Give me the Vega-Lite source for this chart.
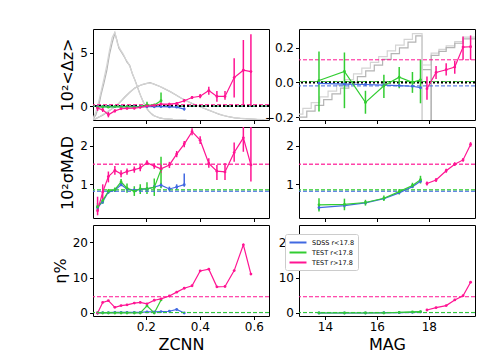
{
"$schema": "https://vega.github.io/schema/vega-lite/v6.json",
"padding": {"left": 51, "top": 28, "right": 5, "bottom": 5},
"config": {
 "font": "DejaVu Sans",
 "view": {"stroke": "black", "strokeWidth": 1},
 "axis": {"grid": false, "domain": false, "tickColor": "black", "labelColor": "black", "titleColor": "black", "labelFontSize": 12, "titleFontSize": 16, "titleFontWeight": "normal", "tickSize": 3.5, "labelPadding": 2, "titlePadding": 4, "labelFont": "DejaVu Sans", "titleFont": "DejaVu Sans"}
},
"datasets": {
 "zs": [
  {"s":"SDSS r<17.8","x":0.021,"dz":-0.05,"dzl":-0.1,"dzh":0.0,"sg":0.4,"sgl":0.33,"sgh":0.47,"eta":0},
  {"s":"SDSS r<17.8","x":0.040,"dz":-0.04,"dzl":-0.08,"dzh":0.0,"sg":0.55,"sgl":0.5,"sgh":0.6,"eta":0.1},
  {"s":"SDSS r<17.8","x":0.061,"dz":-0.05,"dzl":-0.09,"dzh":-0.01,"sg":0.8,"sgl":0.76,"sgh":0.84,"eta":0.1},
  {"s":"SDSS r<17.8","x":0.085,"dz":-0.05,"dzl":-0.09,"dzh":-0.01,"sg":0.85,"sgl":0.81,"sgh":0.89,"eta":0.2},
  {"s":"SDSS r<17.8","x":0.108,"dz":-0.04,"dzl":-0.08,"dzh":0.0,"sg":0.99,"sgl":0.95,"sgh":1.03,"eta":0.2},
  {"s":"SDSS r<17.8","x":0.130,"dz":-0.05,"dzl":-0.09,"dzh":-0.01,"sg":0.88,"sgl":0.84,"sgh":0.92,"eta":0.2},
  {"s":"SDSS r<17.8","x":0.157,"dz":-0.05,"dzl":-0.09,"dzh":-0.01,"sg":0.85,"sgl":0.81,"sgh":0.89,"eta":0.2},
  {"s":"SDSS r<17.8","x":0.179,"dz":-0.04,"dzl":-0.09,"dzh":0.01,"sg":0.87,"sgl":0.83,"sgh":0.91,"eta":0.2},
  {"s":"SDSS r<17.8","x":0.204,"dz":-0.05,"dzl":-0.1,"dzh":0.0,"sg":0.88,"sgl":0.84,"sgh":0.92,"eta":0.3},
  {"s":"SDSS r<17.8","x":0.231,"dz":-0.06,"dzl":-0.11,"dzh":-0.01,"sg":0.93,"sgl":0.88,"sgh":0.98,"eta":0.3},
  {"s":"SDSS r<17.8","x":0.256,"dz":-0.05,"dzl":-0.11,"dzh":0.01,"sg":0.98,"sgl":0.92,"sgh":1.04,"eta":0.4},
  {"s":"SDSS r<17.8","x":0.287,"dz":-0.08,"dzl":-0.15,"dzh":-0.01,"sg":0.88,"sgl":0.82,"sgh":0.94,"eta":0.5},
  {"s":"SDSS r<17.8","x":0.314,"dz":-0.1,"dzl":-0.18,"dzh":-0.02,"sg":0.93,"sgl":0.86,"sgh":1.0,"eta":1.0},
  {"s":"SDSS r<17.8","x":0.342,"dz":-0.28,"dzl":-0.42,"dzh":-0.12,"sg":0.99,"sgl":0.94,"sgh":1.28,"eta":0},
  {"s":"TEST r<17.8","x":0.021,"dz":-0.1,"dzl":-0.2,"dzh":0.0,"sg":0.42,"sgl":0.32,"sgh":0.52,"eta":0},
  {"s":"TEST r<17.8","x":0.040,"dz":-0.06,"dzl":-0.12,"dzh":0.0,"sg":0.58,"sgl":0.5,"sgh":0.66,"eta":0},
  {"s":"TEST r<17.8","x":0.061,"dz":-0.1,"dzl":-0.16,"dzh":-0.04,"sg":0.82,"sgl":0.76,"sgh":0.88,"eta":0},
  {"s":"TEST r<17.8","x":0.085,"dz":-0.05,"dzl":-0.1,"dzh":0.0,"sg":0.86,"sgl":0.8,"sgh":0.92,"eta":0},
  {"s":"TEST r<17.8","x":0.108,"dz":-0.08,"dzl":-0.14,"dzh":-0.02,"sg":1.06,"sgl":0.98,"sgh":1.14,"eta":0},
  {"s":"TEST r<17.8","x":0.130,"dz":-0.05,"dzl":-0.12,"dzh":0.02,"sg":0.9,"sgl":0.78,"sgh":1.02,"eta":0},
  {"s":"TEST r<17.8","x":0.157,"dz":-0.1,"dzl":-0.18,"dzh":-0.02,"sg":0.82,"sgl":0.7,"sgh":0.95,"eta":0},
  {"s":"TEST r<17.8","x":0.179,"dz":-0.05,"dzl":-0.14,"dzh":0.04,"sg":0.88,"sgl":0.75,"sgh":1.0,"eta":0},
  {"s":"TEST r<17.8","x":0.204,"dz":0.1,"dzl":-0.13,"dzh":0.4,"sg":0.89,"sgl":0.75,"sgh":1.05,"eta":2.0},
  {"s":"TEST r<17.8","x":0.231,"dz":0.09,"dzl":-0.05,"dzh":0.23,"sg":0.92,"sgl":0.7,"sgh":1.15,"eta":0},
  {"s":"TEST r<17.8","x":0.256,"dz":0.5,"dzl":0.3,"dzh":1.27,"sg":1.38,"sgl":0.9,"sgh":1.71,"eta":3.7},
  {"s":"TEST r>17.8","x":0.021,"dz":-0.19,"dzl":-0.45,"dzh":0.07,"sg":0.32,"sgl":0.2,"sgh":0.68,"eta":0},
  {"s":"TEST r>17.8","x":0.040,"dz":-0.35,"dzl":-0.55,"dzh":-0.15,"sg":0.8,"sgl":0.6,"sgh":1.0,"eta":3.0},
  {"s":"TEST r>17.8","x":0.061,"dz":-0.8,"dzl":-1.05,"dzh":-0.55,"sg":1.2,"sgl":1.05,"sgh":1.33,"eta":3.5},
  {"s":"TEST r>17.8","x":0.085,"dz":-0.45,"dzl":-0.6,"dzh":-0.3,"sg":1.36,"sgl":1.25,"sgh":1.47,"eta":1.6},
  {"s":"TEST r>17.8","x":0.108,"dz":-0.25,"dzl":-0.37,"dzh":-0.13,"sg":1.27,"sgl":1.18,"sgh":1.36,"eta":2.1},
  {"s":"TEST r>17.8","x":0.130,"dz":-0.22,"dzl":-0.32,"dzh":-0.12,"sg":1.33,"sgl":1.25,"sgh":1.41,"eta":2.3},
  {"s":"TEST r>17.8","x":0.157,"dz":-0.2,"dzl":-0.3,"dzh":-0.1,"sg":1.38,"sgl":1.3,"sgh":1.46,"eta":2.8},
  {"s":"TEST r>17.8","x":0.179,"dz":-0.12,"dzl":-0.22,"dzh":-0.02,"sg":1.42,"sgl":1.34,"sgh":1.5,"eta":3.0},
  {"s":"TEST r>17.8","x":0.204,"dz":0.0,"dzl":-0.1,"dzh":0.1,"sg":1.56,"sgl":1.5,"sgh":1.62,"eta":2.6},
  {"s":"TEST r>17.8","x":0.231,"dz":0.06,"dzl":-0.06,"dzh":0.18,"sg":1.47,"sgl":1.4,"sgh":1.54,"eta":3.6},
  {"s":"TEST r>17.8","x":0.256,"dz":0.18,"dzl":0.06,"dzh":0.3,"sg":1.4,"sgl":1.3,"sgh":1.5,"eta":4.0},
  {"s":"TEST r>17.8","x":0.287,"dz":0.18,"dzl":0.06,"dzh":0.3,"sg":1.5,"sgl":1.42,"sgh":1.58,"eta":4.8},
  {"s":"TEST r>17.8","x":0.314,"dz":0.25,"dzl":0.13,"dzh":0.37,"sg":1.78,"sgl":1.7,"sgh":1.86,"eta":5.9},
  {"s":"TEST r>17.8","x":0.342,"dz":0.5,"dzl":0.35,"dzh":0.65,"sg":2.04,"sgl":1.96,"sgh":2.12,"eta":7.0},
  {"s":"TEST r>17.8","x":0.371,"dz":0.8,"dzl":0.65,"dzh":0.95,"sg":2.36,"sgl":2.27,"sgh":2.45,"eta":7.7},
  {"s":"TEST r>17.8","x":0.401,"dz":0.92,"dzl":0.72,"dzh":1.12,"sg":2.14,"sgl":2.04,"sgh":2.24,"eta":11.9},
  {"s":"TEST r>17.8","x":0.433,"dz":1.45,"dzl":1.05,"dzh":1.8,"sg":1.54,"sgl":1.43,"sgh":1.67,"eta":12.4},
  {"s":"TEST r>17.8","x":0.463,"dz":0.9,"dzl":0.4,"dzh":1.42,"sg":1.34,"sgl":1.11,"sgh":1.5,"eta":7.4},
  {"s":"TEST r>17.8","x":0.493,"dz":0.9,"dzl":0.6,"dzh":1.4,"sg":1.32,"sgl":1.11,"sgh":1.55,"eta":7.5},
  {"s":"TEST r>17.8","x":0.527,"dz":2.66,"dzl":0.8,"dzh":4.47,"sg":1.82,"sgl":1.58,"sgh":2.08,"eta":12.0},
  {"s":"TEST r>17.8","x":0.561,"dz":3.35,"dzl":0.09,"dzh":6.17,"sg":2.2,"sgl":1.84,"sgh":2.6,"eta":19.3},
  {"s":"TEST r>17.8","x":0.589,"dz":3.22,"dzl":0.0,"dzh":6.7,"sg":1.5,"sgl":1.07,"sgh":2.6,"eta":11.0}
 ],
 "ms": [
  {"s":"SDSS r<17.8","x":13.77,"dz":-0.005,"dzl":-0.01,"dzh":0.0,"sg":0.4,"sgl":0.33,"sgh":0.47,"eta":0},
  {"s":"SDSS r<17.8","x":14.75,"dz":-0.01,"dzl":-0.015,"dzh":-0.005,"sg":0.45,"sgl":0.4,"sgh":0.5,"eta":0},
  {"s":"SDSS r<17.8","x":15.56,"dz":-0.012,"dzl":-0.017,"dzh":-0.007,"sg":0.52,"sgl":0.48,"sgh":0.56,"eta":0},
  {"s":"SDSS r<17.8","x":16.27,"dz":-0.015,"dzl":-0.02,"dzh":-0.01,"sg":0.63,"sgl":0.6,"sgh":0.66,"eta":0.1},
  {"s":"SDSS r<17.8","x":16.86,"dz":-0.018,"dzl":-0.023,"dzh":-0.013,"sg":0.78,"sgl":0.75,"sgh":0.81,"eta":0.1},
  {"s":"SDSS r<17.8","x":17.37,"dz":-0.022,"dzl":-0.027,"dzh":-0.017,"sg":0.94,"sgl":0.91,"sgh":0.97,"eta":0.2},
  {"s":"SDSS r<17.8","x":17.68,"dz":-0.03,"dzl":-0.036,"dzh":-0.024,"sg":1.08,"sgl":1.04,"sgh":1.12,"eta":0.3},
  {"s":"TEST r<17.8","x":13.77,"dz":0.011,"dzl":-0.167,"dzh":0.178,"sg":0.47,"sgl":0.3,"sgh":0.64,"eta":0},
  {"s":"TEST r<17.8","x":14.75,"dz":0.063,"dzl":-0.148,"dzh":0.172,"sg":0.48,"sgl":0.33,"sgh":0.63,"eta":0},
  {"s":"TEST r<17.8","x":15.56,"dz":-0.115,"dzl":-0.18,"dzh":-0.048,"sg":0.53,"sgl":0.45,"sgh":0.6,"eta":0},
  {"s":"TEST r<17.8","x":16.27,"dz":-0.019,"dzl":-0.09,"dzh":0.044,"sg":0.64,"sgl":0.57,"sgh":0.71,"eta":0},
  {"s":"TEST r<17.8","x":16.86,"dz":0.03,"dzl":-0.033,"dzh":0.088,"sg":0.81,"sgl":0.74,"sgh":0.88,"eta":0.15},
  {"s":"TEST r<17.8","x":17.37,"dz":0.0,"dzl":-0.06,"dzh":0.06,"sg":0.97,"sgl":0.9,"sgh":1.04,"eta":0.3},
  {"s":"TEST r<17.8","x":17.68,"dz":0.015,"dzl":-0.12,"dzh":0.13,"sg":1.12,"sgl":1.02,"sgh":1.22,"eta":0.4},
  {"s":"TEST r>17.8","x":17.93,"dz":-0.036,"dzl":-0.1,"dzh":0.034,"sg":1.02,"sgl":0.97,"sgh":1.07,"eta":0.85},
  {"s":"TEST r>17.8","x":18.28,"dz":0.057,"dzl":0.02,"dzh":0.095,"sg":1.11,"sgl":1.06,"sgh":1.16,"eta":1.5},
  {"s":"TEST r>17.8","x":18.67,"dz":0.073,"dzl":0.04,"dzh":0.11,"sg":1.35,"sgl":1.3,"sgh":1.4,"eta":2.1},
  {"s":"TEST r>17.8","x":19.0,"dz":0.088,"dzl":0.05,"dzh":0.125,"sg":1.52,"sgl":1.47,"sgh":1.57,"eta":3.7},
  {"s":"TEST r>17.8","x":19.32,"dz":0.203,"dzl":0.13,"dzh":0.264,"sg":1.63,"sgl":1.58,"sgh":1.68,"eta":4.9},
  {"s":"TEST r>17.8","x":19.61,"dz":0.205,"dzl":0.13,"dzh":0.27,"sg":2.03,"sgl":1.97,"sgh":2.09,"eta":8.7}
 ],
 "refs": [
  {"s":"SDSS r<17.8","dz":-0.02,"sg":0.82,"eta":0.1},
  {"s":"TEST r<17.8","dz":0.005,"sg":0.86,"eta":0.15},
  {"s":"TEST r>17.8","dz":0.13,"sg":1.52,"eta":4.6}
 ],
 "zh": [
  {"h":"a","x":0.0,"y":-1.5},{"h":"a","x":0.005,"y":-1.2},{"h":"a","x":0.015,"y":-0.8},{"h":"a","x":0.025,"y":0.0},{"h":"a","x":0.035,"y":1.2},{"h":"a","x":0.045,"y":2.2},{"h":"a","x":0.055,"y":3.3},{"h":"a","x":0.065,"y":4.8},{"h":"a","x":0.075,"y":5.9},{"h":"a","x":0.085,"y":6.8},{"h":"a","x":0.092,"y":6.2},{"h":"a","x":0.1,"y":5.4},{"h":"a","x":0.11,"y":5.0},{"h":"a","x":0.12,"y":4.6},{"h":"a","x":0.13,"y":4.1},{"h":"a","x":0.14,"y":3.8},{"h":"a","x":0.15,"y":3.0},{"h":"a","x":0.16,"y":2.4},{"h":"a","x":0.17,"y":1.7},{"h":"a","x":0.18,"y":1.0},{"h":"a","x":0.19,"y":0.4},{"h":"a","x":0.2,"y":-0.1},{"h":"a","x":0.21,"y":-0.45},{"h":"a","x":0.22,"y":-0.7},{"h":"a","x":0.23,"y":-0.9},{"h":"a","x":0.24,"y":-1.0},{"h":"a","x":0.25,"y":-1.1},{"h":"a","x":0.27,"y":-1.2},{"h":"a","x":0.3,"y":-1.25},{"h":"a","x":0.35,"y":-1.3},
  {"h":"b","x":0.0,"y":-1.5},{"h":"b","x":0.005,"y":-1.1},{"h":"b","x":0.015,"y":-0.5},{"h":"b","x":0.025,"y":0.4},{"h":"b","x":0.035,"y":1.5},{"h":"b","x":0.045,"y":2.6},{"h":"b","x":0.055,"y":3.8},{"h":"b","x":0.065,"y":5.2},{"h":"b","x":0.075,"y":6.4},{"h":"b","x":0.085,"y":6.9},{"h":"b","x":0.095,"y":5.8},{"h":"b","x":0.105,"y":5.3},{"h":"b","x":0.115,"y":4.9},{"h":"b","x":0.125,"y":4.4},{"h":"b","x":0.135,"y":4.0},{"h":"b","x":0.145,"y":3.4},{"h":"b","x":0.155,"y":2.7},{"h":"b","x":0.165,"y":2.0},{"h":"b","x":0.175,"y":1.3},{"h":"b","x":0.185,"y":0.7},{"h":"b","x":0.195,"y":0.1},{"h":"b","x":0.205,"y":-0.3},{"h":"b","x":0.215,"y":-0.6},{"h":"b","x":0.225,"y":-0.85},{"h":"b","x":0.24,"y":-1.0},{"h":"b","x":0.26,"y":-1.15},{"h":"b","x":0.3,"y":-1.25},{"h":"b","x":0.35,"y":-1.3},
  {"h":"c","x":0.0,"y":-1.5},{"h":"c","x":0.005,"y":-1.3},{"h":"c","x":0.02,"y":-1.1},{"h":"c","x":0.04,"y":-0.85},{"h":"c","x":0.06,"y":-0.5},{"h":"c","x":0.08,"y":-0.15},{"h":"c","x":0.1,"y":0.25},{"h":"c","x":0.12,"y":0.8},{"h":"c","x":0.14,"y":1.3},{"h":"c","x":0.16,"y":1.7},{"h":"c","x":0.18,"y":1.95},{"h":"c","x":0.2,"y":2.1},{"h":"c","x":0.215,"y":2.2},{"h":"c","x":0.23,"y":2.05},{"h":"c","x":0.25,"y":1.85},{"h":"c","x":0.27,"y":1.6},{"h":"c","x":0.29,"y":1.35},{"h":"c","x":0.31,"y":1.05},{"h":"c","x":0.33,"y":0.75},{"h":"c","x":0.35,"y":0.5},{"h":"c","x":0.37,"y":0.25},{"h":"c","x":0.39,"y":0.05},{"h":"c","x":0.41,"y":-0.15},{"h":"c","x":0.43,"y":-0.35},{"h":"c","x":0.45,"y":-0.55},{"h":"c","x":0.47,"y":-0.75},{"h":"c","x":0.49,"y":-0.9},{"h":"c","x":0.51,"y":-1.0},{"h":"c","x":0.53,"y":-1.1},{"h":"c","x":0.55,"y":-1.15},{"h":"c","x":0.58,"y":-1.2},{"h":"c","x":0.61,"y":-1.25},{"h":"c","x":0.64,"y":-1.28},
  {"h":"d","x":0.0,"y":-1.5},{"h":"d","x":0.01,"y":-1.2},{"h":"d","x":0.03,"y":-0.95},{"h":"d","x":0.05,"y":-0.65},{"h":"d","x":0.07,"y":-0.3},{"h":"d","x":0.09,"y":0.05},{"h":"d","x":0.11,"y":0.5},{"h":"d","x":0.13,"y":1.0},{"h":"d","x":0.15,"y":1.5},{"h":"d","x":0.17,"y":1.85},{"h":"d","x":0.19,"y":2.05},{"h":"d","x":0.21,"y":2.15},{"h":"d","x":0.225,"y":2.1},{"h":"d","x":0.24,"y":1.95},{"h":"d","x":0.26,"y":1.75},{"h":"d","x":0.28,"y":1.5},{"h":"d","x":0.3,"y":1.2},{"h":"d","x":0.32,"y":0.9},{"h":"d","x":0.34,"y":0.62},{"h":"d","x":0.36,"y":0.38},{"h":"d","x":0.38,"y":0.15},{"h":"d","x":0.4,"y":-0.05},{"h":"d","x":0.42,"y":-0.25},{"h":"d","x":0.44,"y":-0.45},{"h":"d","x":0.46,"y":-0.65},{"h":"d","x":0.48,"y":-0.82},{"h":"d","x":0.5,"y":-0.95},{"h":"d","x":0.52,"y":-1.05},{"h":"d","x":0.54,"y":-1.12},{"h":"d","x":0.57,"y":-1.18},{"h":"d","x":0.6,"y":-1.22},{"h":"d","x":0.63,"y":-1.26},{"h":"d","x":0.66,"y":-1.28}
 ],
 "mh": [
  {"h":"a","x":13.0,"y":-0.2},{"h":"a","x":13.3,"y":-0.165},{"h":"a","x":13.62,"y":-0.132},{"h":"a","x":13.95,"y":-0.099},{"h":"a","x":14.27,"y":-0.066},{"h":"a","x":14.6,"y":-0.033},{"h":"a","x":14.92,"y":0.0},{"h":"a","x":15.25,"y":0.033},{"h":"a","x":15.57,"y":0.066},{"h":"a","x":15.9,"y":0.099},{"h":"a","x":16.22,"y":0.132},{"h":"a","x":16.55,"y":0.165},{"h":"a","x":16.87,"y":0.198},{"h":"a","x":17.2,"y":0.231},{"h":"a","x":17.5,"y":0.268},{"h":"a","x":17.74,"y":0.073},{"h":"a","x":18.09,"y":-0.3},
  {"h":"b","x":13.0,"y":-0.182},{"h":"b","x":13.15,"y":-0.149},{"h":"b","x":13.47,"y":-0.116},{"h":"b","x":13.8,"y":-0.083},{"h":"b","x":14.12,"y":-0.05},{"h":"b","x":14.45,"y":-0.017},{"h":"b","x":14.77,"y":0.016},{"h":"b","x":15.1,"y":0.049},{"h":"b","x":15.42,"y":0.082},{"h":"b","x":15.75,"y":0.115},{"h":"b","x":16.07,"y":0.148},{"h":"b","x":16.4,"y":0.181},{"h":"b","x":16.72,"y":0.214},{"h":"b","x":17.05,"y":0.247},{"h":"b","x":17.37,"y":0.28},{"h":"b","x":17.74,"y":-0.3},
  {"h":"c","x":17.74,"y":-0.3},{"h":"c","x":17.745,"y":0.10},{"h":"c","x":18.09,"y":0.168},{"h":"c","x":18.39,"y":0.19},{"h":"c","x":18.67,"y":0.21},{"h":"c","x":19.0,"y":0.235},{"h":"c","x":19.32,"y":0.26},{"h":"c","x":19.8,"y":0.26},
  {"h":"d","x":18.09,"y":-0.3},{"h":"d","x":18.095,"y":0.155},{"h":"d","x":18.39,"y":0.178},{"h":"d","x":18.67,"y":0.2},{"h":"d","x":19.0,"y":0.225},{"h":"d","x":19.32,"y":0.25},{"h":"d","x":19.8,"y":0.25}
 ]
},
"columns": 2,
"spacing": {"row": 7, "column": 30},
"bounds": "flush",
"resolve": {"scale": {"color": "independent", "stroke": "independent", "x": "independent", "y": "independent"}, "legend": {"color": "independent", "stroke": "independent"}},
"concat": [
 {"width": 176, "height": 91,
  "layer": [
   {"data": {"name": "zh"}, "mark": {"type": "line", "clip": true, "strokeWidth": 1.2},
    "encoding": {
     "x": {"field": "x", "type": "quantitative", "scale": {"domain": [0.004, 0.656], "nice": false, "zero": false}, "axis": {"values": [0.2, 0.4, 0.6], "labels": false, "title": null}},
     "y": {"field": "y", "type": "quantitative", "scale": {"domain": [-1.3, 7.2], "nice": false, "zero": false}, "axis": {"values": [0, 5], "title": "10²<Δz>"}},
     "stroke": {"field": "h", "type": "nominal", "scale": {"domain": ["a","b","c","d"], "range": ["#b4b4b4","#d4d4d4","#b4b4b4","#d4d4d4"]}, "legend": null}}},
   {"data": {"name": "refs"}, "mark": {"type": "rule", "strokeDash": [4, 2], "strokeWidth": 1},
    "encoding": {"y": {"field": "dz", "type": "quantitative"},
     "color": {"field": "s", "type": "nominal", "scale": {"domain": ["SDSS r<17.8","TEST r<17.8","TEST r>17.8"], "range": ["#4169e1","#32cd32","#ff1493"]}, "legend": null}}},
   {"data": {"values": [{}]}, "mark": {"type": "rule", "color": "black", "strokeDash": [2, 2], "strokeWidth": 2}, "encoding": {"y": {"datum": 0}}},
   {"data": {"name": "zs"}, "mark": {"type": "rule", "strokeWidth": 1.5, "clip": true},
    "encoding": {"x": {"field": "x", "type": "quantitative"}, "y": {"field": "dzl", "type": "quantitative"}, "y2": {"field": "dzh"},
     "color": {"field": "s", "type": "nominal", "legend": null}}},
   {"data": {"name": "zs"}, "mark": {"type": "line", "strokeWidth": 1.2, "clip": true, "point": {"size": 8, "filled": true}},
    "encoding": {"x": {"field": "x", "type": "quantitative"}, "y": {"field": "dz", "type": "quantitative"},
     "color": {"field": "s", "type": "nominal", "legend": null}}}
  ]},
 {"width": 176, "height": 91,
  "layer": [
   {"data": {"name": "mh"}, "mark": {"type": "line", "interpolate": "step-after", "clip": true, "strokeWidth": 1.2},
    "encoding": {
     "x": {"field": "x", "type": "quantitative", "scale": {"domain": [13.0, 19.78], "nice": false, "zero": false}, "axis": {"values": [14, 16, 18], "labels": false, "title": null}},
     "y": {"field": "y", "type": "quantitative", "scale": {"domain": [-0.216, 0.307], "nice": false, "zero": false}, "axis": {"values": [-0.2, 0, 0.2], "format": ".1f", "title": null}},
     "stroke": {"field": "h", "type": "nominal", "scale": {"domain": ["a","b","c","d"], "range": ["#b4b4b4","#d4d4d4","#d4d4d4","#b4b4b4"]}, "legend": null}}},
   {"data": {"name": "refs"}, "mark": {"type": "rule", "strokeDash": [4, 2], "strokeWidth": 1},
    "encoding": {"y": {"field": "dz", "type": "quantitative"},
     "color": {"field": "s", "type": "nominal", "scale": {"domain": ["SDSS r<17.8","TEST r<17.8","TEST r>17.8"], "range": ["#4169e1","#32cd32","#ff1493"]}, "legend": null}}},
   {"data": {"values": [{}]}, "mark": {"type": "rule", "color": "black", "strokeDash": [2, 2], "strokeWidth": 2}, "encoding": {"y": {"datum": 0}}},
   {"data": {"name": "ms"}, "mark": {"type": "rule", "strokeWidth": 1.5, "clip": true},
    "encoding": {"x": {"field": "x", "type": "quantitative"}, "y": {"field": "dzl", "type": "quantitative"}, "y2": {"field": "dzh"},
     "color": {"field": "s", "type": "nominal", "legend": null}}},
   {"data": {"name": "ms"}, "mark": {"type": "line", "strokeWidth": 1.2, "clip": true, "point": {"size": 8, "filled": true}},
    "encoding": {"x": {"field": "x", "type": "quantitative"}, "y": {"field": "dz", "type": "quantitative"},
     "color": {"field": "s", "type": "nominal", "legend": null}}}
  ]},
 {"width": 176, "height": 91,
  "layer": [
   {"data": {"name": "zs"}, "mark": {"type": "rule", "strokeWidth": 1.5, "clip": true},
    "encoding": {
     "x": {"field": "x", "type": "quantitative", "scale": {"domain": [0.004, 0.656], "nice": false, "zero": false}, "axis": {"values": [0.2, 0.4, 0.6], "labels": false, "title": null}},
     "y": {"field": "sgl", "type": "quantitative", "scale": {"domain": [0.13, 2.48], "nice": false, "zero": false}, "axis": {"values": [1, 2], "title": "10²σMAD"}},
     "y2": {"field": "sgh"},
     "color": {"field": "s", "type": "nominal", "scale": {"domain": ["SDSS r<17.8","TEST r<17.8","TEST r>17.8"], "range": ["#4169e1","#32cd32","#ff1493"]}, "legend": null}}},
   {"data": {"name": "refs"}, "mark": {"type": "rule", "strokeDash": [4, 2], "strokeWidth": 1.5, "opacity": 0.8},
    "encoding": {"y": {"field": "sg", "type": "quantitative"},
     "color": {"field": "s", "type": "nominal", "legend": null}}},
   {"data": {"name": "zs"}, "mark": {"type": "line", "strokeWidth": 1.2, "clip": true, "point": {"size": 8, "filled": true}},
    "encoding": {"x": {"field": "x", "type": "quantitative"}, "y": {"field": "sg", "type": "quantitative"},
     "color": {"field": "s", "type": "nominal", "legend": null}}}
  ]},
 {"width": 176, "height": 91,
  "layer": [
   {"data": {"name": "ms"}, "mark": {"type": "rule", "strokeWidth": 1.5, "clip": true},
    "encoding": {
     "x": {"field": "x", "type": "quantitative", "scale": {"domain": [13.0, 19.78], "nice": false, "zero": false}, "axis": {"values": [14, 16, 18], "labels": false, "title": null}},
     "y": {"field": "sgl", "type": "quantitative", "scale": {"domain": [0.13, 2.48], "nice": false, "zero": false}, "axis": {"values": [1, 2], "title": null}},
     "y2": {"field": "sgh"},
     "color": {"field": "s", "type": "nominal", "scale": {"domain": ["SDSS r<17.8","TEST r<17.8","TEST r>17.8"], "range": ["#4169e1","#32cd32","#ff1493"]}, "legend": null}}},
   {"data": {"name": "refs"}, "mark": {"type": "rule", "strokeDash": [4, 2], "strokeWidth": 1.5, "opacity": 0.8},
    "encoding": {"y": {"field": "sg", "type": "quantitative"},
     "color": {"field": "s", "type": "nominal", "legend": null}}},
   {"data": {"name": "ms"}, "mark": {"type": "line", "strokeWidth": 1.2, "clip": true, "point": {"size": 8, "filled": true}},
    "encoding": {"x": {"field": "x", "type": "quantitative"}, "y": {"field": "sg", "type": "quantitative"},
     "color": {"field": "s", "type": "nominal", "legend": null}}}
  ]},
 {"width": 176, "height": 91,
  "layer": [
   {"data": {"name": "zs"}, "mark": {"type": "line", "strokeWidth": 1.2, "clip": true, "point": {"size": 8, "filled": true}},
    "encoding": {
     "x": {"field": "x", "type": "quantitative", "scale": {"domain": [0.004, 0.656], "nice": false, "zero": false}, "axis": {"values": [0.2, 0.4, 0.6], "title": "ZCNN"}},
     "y": {"field": "eta", "type": "quantitative", "scale": {"domain": [-0.85, 24.9], "nice": false, "zero": false}, "axis": {"values": [0, 10, 20], "title": "η%"}},
     "color": {"field": "s", "type": "nominal", "scale": {"domain": ["SDSS r<17.8","TEST r<17.8","TEST r>17.8"], "range": ["#4169e1","#32cd32","#ff1493"]}, "legend": null}}},
   {"data": {"name": "refs"}, "mark": {"type": "rule", "strokeDash": [4, 2], "strokeWidth": 1},
    "encoding": {"y": {"field": "eta", "type": "quantitative"},
     "color": {"field": "s", "type": "nominal", "legend": null}}}
  ]},
 {"width": 176, "height": 91,
  "layer": [
   {"data": {"name": "ms"}, "mark": {"type": "line", "strokeWidth": 1.2, "clip": true, "point": {"size": 8, "filled": true}},
    "encoding": {
     "x": {"field": "x", "type": "quantitative", "scale": {"domain": [13.0, 19.78], "nice": false, "zero": false}, "axis": {"values": [14, 16, 18], "title": "MAG"}},
     "y": {"field": "eta", "type": "quantitative", "scale": {"domain": [-0.85, 24.9], "nice": false, "zero": false}, "axis": {"values": [0, 10, 20], "title": null}},
     "color": {"field": "s", "type": "nominal", "scale": {"domain": ["SDSS r<17.8","TEST r<17.8","TEST r>17.8"], "range": ["#4169e1","#32cd32","#ff1493"]},
      "legend": {"orient": "none", "legendX": -14, "legendY": 9, "title": null, "symbolType": "M-2,0H2", "symbolStrokeWidth": 2, "symbolSize": 72, "symbolOffset": 4.5, "labelFontSize": 6.5, "labelFont": "DejaVu Sans", "strokeColor": "#cccccc", "fillColor": "white", "padding": 3, "rowPadding": -1, "labelOffset": 8.5, "cornerRadius": 2}}}},
   {"data": {"name": "refs"}, "mark": {"type": "rule", "strokeDash": [4, 2], "strokeWidth": 1},
    "encoding": {"y": {"field": "eta", "type": "quantitative"},
     "color": {"field": "s", "type": "nominal", "legend": {"orient": "none", "legendX": -14, "legendY": 9, "title": null, "symbolType": "M-2,0H2", "symbolStrokeWidth": 2, "symbolSize": 72, "symbolOffset": 4.5, "labelFontSize": 6.5, "labelFont": "DejaVu Sans", "strokeColor": "#cccccc", "fillColor": "white", "padding": 3, "rowPadding": -1, "labelOffset": 8.5, "cornerRadius": 2}}}}
  ]}
]
}
